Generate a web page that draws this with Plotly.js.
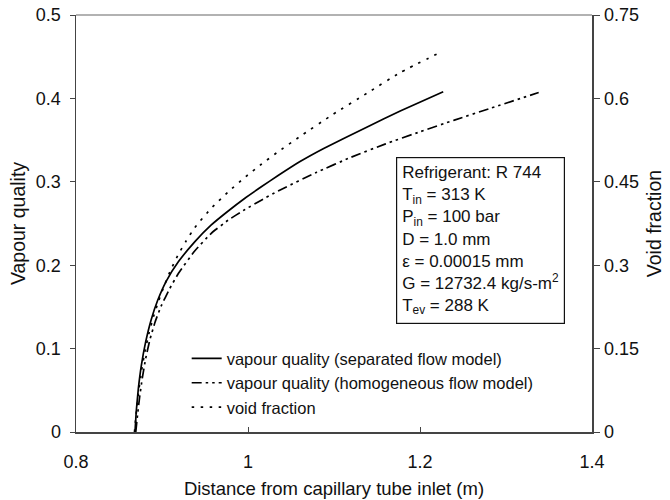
<!DOCTYPE html>
<html>
<head>
<meta charset="utf-8">
<script src="https://cdn.plot.ly/plotly-3.0.1.min.js"></script>
<style>html,body{margin:0;padding:0;background:#fff;}#chart{width:670px;height:500px;}</style>
</head>
<body>
<div id="chart"></div>
<script>
// Separated flow model: vapour quality
const sepX = [0.8686, 0.870, 0.8725, 0.876, 0.881, 0.8875, 0.895, 0.905, 0.919, 0.938, 0.957, 0.977, 0.996, 1.0155, 1.035, 1.060, 1.088, 1.138, 1.177, 1.227];
const sepY = [0.000, 0.024, 0.052, 0.080, 0.108, 0.135, 0.158, 0.181, 0.204, 0.228, 0.248, 0.265, 0.280, 0.294, 0.3075, 0.324, 0.340, 0.3655, 0.385, 0.408];
// Homogeneous flow model: vapour quality
const homX = [0.8695, 0.8715, 0.874, 0.877, 0.881, 0.886, 0.892, 0.899, 0.909, 0.919, 0.938, 0.957, 0.977, 0.996, 1.0155, 1.035, 1.080, 1.120, 1.160, 1.200, 1.240, 1.280, 1.338];
const homY = [0.000, 0.020, 0.042, 0.064, 0.088, 0.111, 0.132, 0.151, 0.172, 0.190, 0.217, 0.238, 0.254, 0.2665, 0.278, 0.289, 0.3115, 0.3295, 0.3455, 0.360, 0.374, 0.3875, 0.407];
// Void fraction (right axis)
const voidX = [0.868, 0.870, 0.873, 0.876, 0.880, 0.885, 0.890, 0.896, 0.902, 0.910, 0.919, 0.928, 0.938, 0.957, 0.977, 0.996, 1.0155, 1.035, 1.060, 1.099, 1.138, 1.177, 1.225];
const voidY = [0.000, 0.033, 0.075, 0.108, 0.144, 0.1785, 0.207, 0.2355, 0.261, 0.291, 0.3195, 0.3435, 0.3675, 0.402, 0.432, 0.4575, 0.4815, 0.504, 0.531, 0.5715, 0.609, 0.6465, 0.684];

const seriesNames = ["vapour quality (separated flow model)", "vapour quality (homogeneous flow model)", "void fraction"];
const xTicks = [0.8, 1, 1.2, 1.4];
const yTicks = [0, 0.1, 0.2, 0.3, 0.4, 0.5];
const y2Ticks = [0, 0.15, 0.3, 0.45, 0.6, 0.75];
const infoLines = ["Refrigerant: R 744", "T<sub>in</sub> = 313 K", "P<sub>in</sub> = 100 bar", "D = 1.0 mm", "ε = 0.00015 mm", "G = 12732.4 kg/s-m<sup>2</sup>", "T<sub>ev</sub> = 288 K"];

const FONT = "Liberation Sans, Arial, sans-serif";
const traces = [
  {x: sepX, y: sepY, name: seriesNames[0], mode: "lines", legendgroup: "a", line: {shape: "spline", smoothing: 0.4,
   color: "#000", width: 1.7, dash: "solid"}},
  {x: homX, y: homY, name: seriesNames[1], mode: "lines", legendgroup: "b", line: {shape: "spline", smoothing: 0.4,
   color: "#000", width: 1.7, dash: "10px,4px,2.5px,4px,2.5px,4px"}},
  {x: voidX, y: voidY, name: seriesNames[2], mode: "lines", yaxis: "y2", legendgroup: "c", line: {shape: "spline", smoothing: 0.4,
   color: "#000", width: 1.7, dash: "2.5px,6.5px"}}
];

const layout = {
  width: 670, height: 500,
  margin: {l: 76, r: 78, t: 15, b: 68},
  paper_bgcolor: "#fff", plot_bgcolor: "#fff",
  font: {family: FONT, size: 18, color: "#111"},
  showlegend: true,
  legend: {x: 0.2145, y: 0.218, xanchor: "left", yanchor: "top", bgcolor: "rgba(0,0,0,0)",
           font: {size: 16.5, family: FONT, color: "#111"}, tracegroupgap: 0},
  xaxis: {range: [0.8, 1.4], tickvals: xTicks, ticks: "inside", ticklen: 5, tickcolor: "#444",
          showgrid: false, zeroline: false, showline: true, linecolor: "#444", linewidth: 1.5,
          ticklabelstandoff: 13, tickfont: {size: 18},
          title: {text: "Distance from capillary tube inlet (m)", font: {size: 18.5}, standoff: 11}},
  yaxis: {range: [0, 0.5], tickvals: yTicks, ticks: "outside", ticklen: 5, tickcolor: "#444",
          showgrid: false, zeroline: false, showline: true, linecolor: "#444", linewidth: 1.5,
          tickfont: {size: 18}, ticklabelstandoff: 5,
          title: {text: "Vapour quality", font: {size: 19.5}, standoff: 5}},
  yaxis2: {range: [0, 0.75], tickvals: y2Ticks, overlaying: "y", side: "right",
           ticks: "outside", ticklen: 6, tickcolor: "#444",
           showgrid: false, zeroline: false, showline: true, linecolor: "#444", linewidth: 1.5,
           tickfont: {size: 18}, ticklabelstandoff: 1,
           title: {text: "Void fraction", font: {size: 19.5}, standoff: 9}},
  shapes: [
    {type: "line", xref: "paper", yref: "paper", x0: 0, x1: 1, y0: 1, y1: 1,
     line: {color: "#999", width: 1.5}}
  ],
  annotations: [
    {xref: "paper", yref: "paper", x: 0.62, y: 0.66, xanchor: "left", yanchor: "top",
     text: infoLines.join("<br>"), showarrow: false, align: "left",
     font: {size: 17, family: FONT, color: "#111"},
     bordercolor: "#111", borderwidth: 1.2, borderpad: 5, bgcolor: "#fff"}
  ]
};

Plotly.newPlot("chart", traces, layout, {displayModeBar: false, staticPlot: true});
</script>
</body>
</html>
